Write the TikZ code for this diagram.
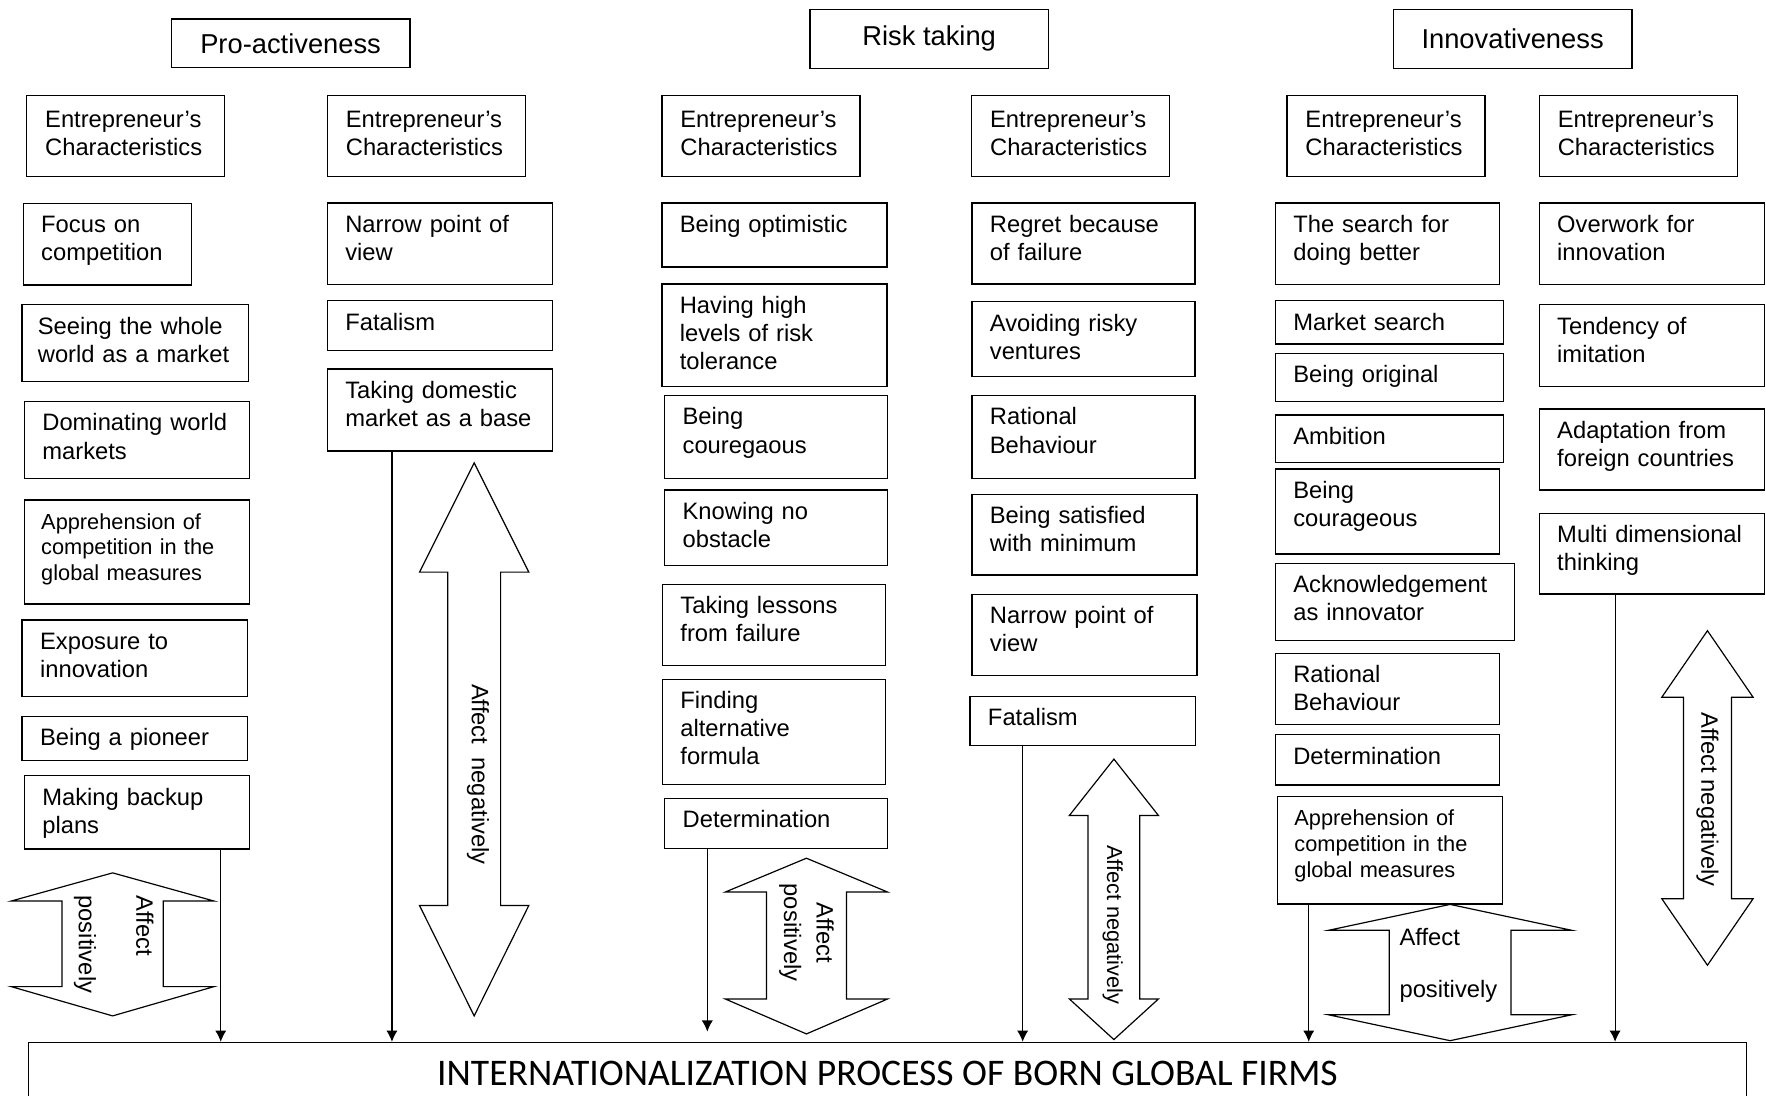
\documentclass[tikz,border=0pt]{standalone}
\usepackage{fontspec}
\setmainfont{Liberation Sans}
\newfontfamily\bannerfont{Carlito}
\usepackage{tikz}
\usetikzlibrary{arrows.meta}

\begin{document}
\begin{tikzpicture}[x=0.02cm, y=-0.02cm,
        every node/.style={font=\fontsize{12}{14.2}\selectfont},
        dimbox/.style={draw, line width=0.7pt, minimum width=4.24cm, font=\fontsize{13.8}{16}\selectfont},
        header/.style={draw, line width=0.7pt, anchor=north west, align=left, inner xsep=0.33cm, inner ysep=0pt, text width=2.86cm, text height=0.57cm, text depth=0.87cm},
        trait/.style={draw, line width=0.7pt, anchor=north west, align=left, inner xsep=0.32cm, inner ysep=0pt, text width=3.36cm, text height=0.52cm},
        small/.style={font=\fontsize{11}{13}\selectfont, inner xsep=0.3cm},
        feed/.style={line width=0.6pt, -{Latex[length=0.2cm, width=0.2cm]}},
        twoway/.style={line width=0.6pt},
        note/.style={inner sep=0pt}]
        \useasboundingbox (0,0) rectangle (1568,973);

        \node[dimbox, minimum height=0.86cm] (pro) at (258,38.5) {Pro-activeness};
        \node[dimbox, minimum height=1.05cm] (risk) at (825,34.5) {Risk taking};
        \node[dimbox, minimum height=1.05cm] (inno) at (1343,34.5) {Innovativeness};

        \node[header] (pa0) at (23,84) {Entrepreneur's\\Characteristics};
        \node[header] (pn0) at (290,84) {Entrepreneur's\\Characteristics};
        \node[header] (rp0) at (587,84) {Entrepreneur's\\Characteristics};
        \node[header] (rn0) at (862,84) {Entrepreneur's\\Characteristics};
        \node[header] (ip0) at (1142,84) {Entrepreneur's\\Characteristics};
        \node[header] (in0) at (1366,84) {Entrepreneur's\\Characteristics};

        \node[trait, text width=2.35cm, text depth=0.93cm] (pa1) at (20,180) {Focus on\\competition};
        \node[trait, inner xsep=0.28cm, text width=3.46cm, text depth=0.84cm] (pa2) at (19,270) {Seeing the whole\\world as a market};
        \node[trait, text depth=0.85cm] (pa3) at (21,356) {Dominating world\\markets};
        \node[trait, small, text width=3.4cm, text depth=1.33cm] (pa4) at (21,443.3) {Apprehension of\\competition in the\\global measures};
        \node[trait, text depth=0.84cm] (pa5) at (19,549.7) {Exposure to\\innovation};
        \node[trait, text depth=0.26cm] (pa6) at (19,635.4) {Being a pioneer};
        \node[trait, text depth=0.78cm] (pa7) at (21,688.2) {Making backup\\plans};

        \node[trait, text depth=0.93cm] (pn1) at (290,179.6) {Narrow point of\\view};
        \node[trait, text depth=0.36cm] (pn2) at (290,266.4) {Fatalism};
        \node[trait, text depth=0.94cm] (pn3) at (290,327) {Taking domestic\\market as a base};

        \node[trait, text depth=0.62cm] (rp1) at (587,179.6) {Being optimistic};
        \node[trait, text depth=1.30cm] (rp2) at (587,251.5) {Having high\\levels of risk\\tolerance};
        \node[trait, text width=3.32cm, text depth=0.95cm] (rp3) at (589.5,350.7) {Being\\couregaous};
        \node[trait, text width=3.32cm, text depth=0.82cm] (rp4) at (589.5,434.6) {Knowing no\\obstacle};
        \node[trait, text width=3.32cm, text depth=0.92cm] (rp5) at (587.5,518.3) {Taking lessons\\from failure};
        \node[trait, text width=3.32cm, text depth=1.35cm] (rp6) at (587.5,602.5) {Finding\\alternative\\formula};
        \node[trait, text width=3.32cm, text depth=0.37cm] (rp7) at (589.5,708.2) {Determination};

        \node[trait, text width=3.32cm, text depth=0.92cm] (rn1) at (862.3,179.6) {Regret because\\of failure};
        \node[trait, text width=3.32cm, text depth=0.81cm] (rn2) at (862.3,267.3) {Avoiding risky\\ventures};
        \node[trait, text width=3.32cm, text depth=0.95cm] (rn3) at (862.3,350.7) {Rational\\Behaviour};
        \node[trait, text depth=0.91cm] (rn4) at (862.3,438.3) {Being satisfied\\with minimum};
        \node[trait, text depth=0.92cm] (rn5) at (862.3,527) {Narrow point of\\view};
        \node[trait, text depth=0.35cm] (rn6) at (860.6,617.6) {Fatalism};

        \node[trait, text width=3.34cm, text depth=0.93cm] (ip1) at (1131.7,179.6) {The search for\\doing better};
        \node[trait, text width=3.41cm, text depth=0.25cm] (ip2) at (1131.7,266.4) {Market search};
        \node[trait, text width=3.41cm, text depth=0.34cm] (ip3) at (1131.7,313.1) {Being original};
        \node[trait, text width=3.41cm, text depth=0.32cm] (ip4) at (1131.7,367.9) {Ambition};
        \node[trait, text width=3.34cm, text depth=0.99cm] (ip5) at (1131.7,415.7) {Being\\courageous};
        \node[trait, text width=3.61cm, text depth=0.85cm] (ip6) at (1131.7,499.6) {Acknowledgement\\as innovator};
        \node[trait, text width=3.34cm, text depth=0.75cm] (ip7) at (1131.7,579.4) {Rational\\Behaviour};
        \node[trait, text width=3.34cm, text depth=0.37cm] (ip8) at (1131.7,651.8) {Determination};
        \node[trait, small, text width=3.39cm, text depth=1.39cm] (ip9) at (1133.7,706.4) {Apprehension of\\competition in the\\global measures};

        \node[trait, text depth=0.93cm] (in1) at (1366,179.6) {Overwork for\\innovation};
        \node[trait, text depth=0.93cm] (in2) at (1366,270) {Tendency of\\imitation};
        \node[trait, text depth=0.92cm] (in3) at (1366,362.5) {Adaptation from\\foreign countries};
        \node[trait, text depth=0.91cm] (in4) at (1366,455.2) {Multi dimensional\\thinking};

        \node[draw, line width=0.7pt, anchor=north west, minimum width=30.52cm, minimum height=1.1cm, font=\bannerfont\fontsize{19}{21}\selectfont] (firms) at (24.5,925) {INTERNATIONALIZATION PROCESS OF BORN GLOBAL FIRMS};

        \draw[feed] (196,0 |- pa7.south) -- (196,0 |- firms.north);
        \draw[feed] (348,0 |- pn3.south) -- (348,0 |- firms.north);
        \draw[feed, shorten >=0.18cm] (628,0 |- rp7.south) -- (628,0 |- firms.north);
        \draw[feed] (908,0 |- rn6.south) -- (908,0 |- firms.north);
        \draw[feed] (1162,0 |- ip9.south) -- (1162,0 |- firms.north);
        \draw[feed] (1434,0 |- in4.south) -- (1434,0 |- firms.north);

        \draw[twoway] (100,775) -- (190,800) -- (145,800) -- (145,876) -- (190,876) -- (100,902) -- (10,876) -- (55,876) -- (55,800) -- (10,800) -- cycle;
        \draw[twoway] (421,411) -- (469.5,508) -- (444.5,508) -- (444.5,804) -- (469.5,804) -- (421,902) -- (372.5,804) -- (397.5,804) -- (397.5,508) -- (372.5,508) -- cycle;
        \draw[twoway] (716,762) -- (788,792) -- (751.5,792) -- (751.5,887) -- (788,887) -- (716,918) -- (644,887) -- (680.5,887) -- (680.5,792) -- (644,792) -- cycle;
        \draw[twoway] (989,674) -- (1028.5,724) -- (1012,724) -- (1012,887) -- (1028.5,887) -- (989,923) -- (949.5,887) -- (966,887) -- (966,724) -- (949.5,724) -- cycle;
        \draw[twoway] (1287.5,803) -- (1395.5,826) -- (1341.5,826) -- (1341.5,901) -- (1395.5,901) -- (1287.5,924) -- (1179.5,901) -- (1233.5,901) -- (1233.5,826) -- (1179.5,826) -- cycle;
        \draw[twoway] (1516,560) -- (1556.5,619) -- (1537.3,619) -- (1537.3,798) -- (1556.5,798) -- (1516,857) -- (1475.5,798) -- (1494.7,798) -- (1494.7,619) -- (1475.5,619) -- cycle;

        \node[note, rotate=-90, align=left] (panote) at (101,838.5) {Affect\\[14.8pt]positively};
        \node[note, rotate=-90] (pnnote) at (424.5,687.5) {Affect\ \ negatively};
        \node[note, rotate=-90, align=center] (rpnote) at (716,828) {Affect\\[2.2pt]positively};
        \node[note, rotate=-90, font=\fontsize{11}{13}\selectfont] (rnnote) at (988,821) {Affect negatively};
        \node[note, align=left] (ipnote) at (1286,857) {Affect\\[12.3pt]positively};
        \node[note, rotate=-90] (innote) at (1516,710) {Affect negatively};
\end{tikzpicture}
\end{document}
